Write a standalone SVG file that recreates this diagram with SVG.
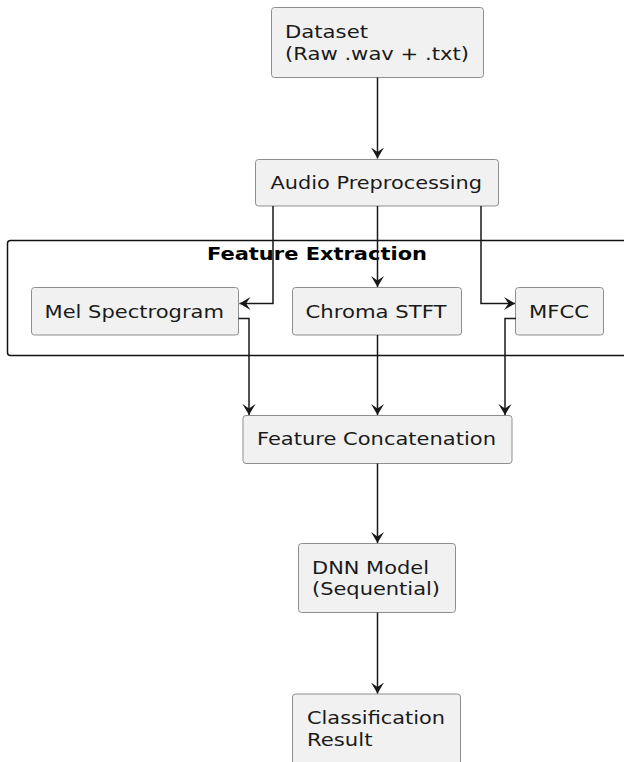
<svg xmlns="http://www.w3.org/2000/svg" width="624" height="762" viewBox="0 0 624 762">
<defs>
<marker id="arr" viewBox="0 0 12 14" refX="11" refY="7" markerWidth="12" markerHeight="14" markerUnits="userSpaceOnUse" orient="auto">
<path d="M0,0.5 L11,7 L0,13.5 L4.5,7 Z" fill="#181818"/>
</marker>
</defs>
<style>
.box{fill:#F1F1F1;stroke:#8E8E8E;stroke-width:1}
.t{font-family:"DejaVu Sans",sans-serif;font-size:18.5px;fill:#1a1a1a}
.title{font-family:"DejaVu Sans",sans-serif;font-size:18.5px;font-weight:bold;fill:#000}
.c{fill:none;stroke:#181818;stroke-width:1.5}
.grp{fill:none;stroke:#111;stroke-width:1.5}
</style>
<rect width="624" height="762" fill="#fff"/>
<g id="feature-extraction">
<rect class="grp" x="7.5" y="240.5" width="640" height="115" rx="3"/>
<text class="title" x="207" y="259.5" textLength="220" lengthAdjust="spacingAndGlyphs">Feature Extraction</text>
</g>
<g id="dataset">
<rect class="box" x="271.5" y="7.5" width="212" height="70" rx="3"/>
<text class="t" x="285" y="38" textLength="83" lengthAdjust="spacingAndGlyphs">Dataset</text>
<text class="t" x="285" y="60" textLength="184" lengthAdjust="spacingAndGlyphs">(Raw .wav + .txt)</text>
</g>
<g id="audio-preprocessing">
<rect class="box" x="255.5" y="159.5" width="243" height="46.5" rx="3"/>
<text class="t" x="270.5" y="188.5" textLength="211.5" lengthAdjust="spacingAndGlyphs">Audio Preprocessing</text>
</g>
<g id="mel-spectrogram">
<rect class="box" x="31.5" y="287.5" width="207" height="47.5" rx="3"/>
<text class="t" x="44.5" y="317.5" textLength="179.5" lengthAdjust="spacingAndGlyphs">Mel Spectrogram</text>
</g>
<g id="chroma-stft">
<rect class="box" x="292.5" y="287.5" width="169" height="47.5" rx="3"/>
<text class="t" x="305.5" y="317.5" textLength="141" lengthAdjust="spacingAndGlyphs">Chroma STFT</text>
</g>
<g id="mfcc">
<rect class="box" x="515.5" y="287.5" width="88" height="47.5" rx="3"/>
<text class="t" x="529" y="317.5" textLength="60" lengthAdjust="spacingAndGlyphs">MFCC</text>
</g>
<g id="feature-concatenation">
<rect class="box" x="243" y="415.5" width="269" height="48" rx="3"/>
<text class="t" x="257" y="445" textLength="239" lengthAdjust="spacingAndGlyphs">Feature Concatenation</text>
</g>
<g id="dnn-model">
<rect class="box" x="298.5" y="543.5" width="157" height="69" rx="3"/>
<text class="t" x="312" y="573.5" textLength="117" lengthAdjust="spacingAndGlyphs">DNN Model</text>
<text class="t" x="312" y="595" textLength="128" lengthAdjust="spacingAndGlyphs">(Sequential)</text>
</g>
<g id="classification-result">
<rect class="box" x="292.5" y="694" width="168" height="90" rx="3"/>
<text class="t" x="307" y="724" textLength="138" lengthAdjust="spacingAndGlyphs">Classification</text>
<text class="t" x="307" y="745.5" textLength="65.5" lengthAdjust="spacingAndGlyphs">Result</text>
</g>
<g id="connectors">
<path class="c" d="M377.5,77.5 V158.5" marker-end="url(#arr)"/>
<path class="c" d="M273,206 V303.5 H239.5" marker-end="url(#arr)"/>
<path class="c" d="M377.5,206 V287" marker-end="url(#arr)"/>
<path class="c" d="M481,206 V303.5 H515" marker-end="url(#arr)"/>
<path class="c" d="M238.5,318.5 H249 V415" marker-end="url(#arr)"/>
<path class="c" d="M377.5,335 V415" marker-end="url(#arr)"/>
<path class="c" d="M516,318.5 H505 V415" marker-end="url(#arr)"/>
<path class="c" d="M377.5,463.5 V543" marker-end="url(#arr)"/>
<path class="c" d="M377.5,612.5 V693.5" marker-end="url(#arr)"/>
</g>
</svg>
